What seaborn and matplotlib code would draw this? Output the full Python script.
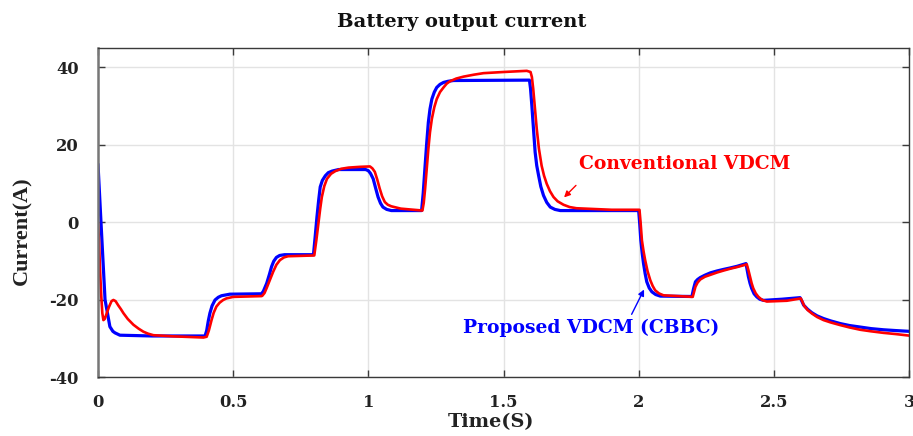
import numpy as np
import pandas as pd
import matplotlib
matplotlib.use("Agg")
import matplotlib.pyplot as plt
import seaborn as sns

# ---- data ----
t_proposed = [0, 0.011, 0.026, 0.044, 0.055, 0.063, 0.081, 0.2, 0.396,
              0.402, 0.408, 0.414, 0.422, 0.433, 0.445, 0.457, 0.488, 0.605,
              0.612, 0.624, 0.634, 0.642, 0.65, 0.66, 0.672, 0.69, 0.797,
              0.803, 0.81, 0.816, 0.822, 0.83, 0.841, 0.852, 0.866, 0.89, 0.99,
              1.0, 1.008, 1.018, 1.027, 1.036, 1.045, 1.054, 1.068, 1.085, 1.197,
              1.203, 1.21, 1.216, 1.222, 1.228, 1.235, 1.244, 1.253, 1.265, 1.278, 1.295, 1.315, 1.596,
              1.6, 1.605, 1.611, 1.617, 1.623, 1.63, 1.638, 1.648, 1.66, 1.673, 1.69, 1.71, 2.0,
              2.004, 2.008, 2.013, 2.018, 2.024, 2.03, 2.039, 2.049, 2.063, 2.08, 2.197,
              2.203, 2.21, 2.218, 2.228, 2.245, 2.265, 2.29, 2.314, 2.34, 2.364, 2.397,
              2.401, 2.406, 2.412, 2.418, 2.427, 2.437, 2.448, 2.462, 2.53, 2.597,
              2.603, 2.61, 2.625, 2.641, 2.66, 2.684, 2.71, 2.746, 2.78, 2.82, 2.86, 2.906, 2.95, 3.0]
i_proposed = [15, 0, -20, -27, -28.2, -28.6, -29.2, -29.4, -29.4,
              -28.0, -25.5, -23.5, -21.6, -20.1, -19.4, -19.0, -18.6, -18.5,
              -17.8, -15.8, -13.5, -11.5, -10.1, -9.1, -8.6, -8.4, -8.4,
              -4.0, 1.4, 5.5, 9.1, 10.8, 12.0, 12.8, 13.2, 13.6, 13.6,
              13.3, 12.6, 11.2, 8.8, 6.5, 4.9, 3.9, 3.3, 3.0, 3.0,
              7.5, 14.6, 20.5, 25.8, 29.2, 31.8, 33.6, 34.8, 35.6, 36.1, 36.4, 36.6, 36.7,
              34.5, 30.0, 24.0, 18.1, 14.6, 12.0, 9.2, 6.9, 5.1, 3.9, 3.3, 3.0, 3.0,
              -0.5, -4.7, -8.0, -10.7, -13.3, -15.4, -17.0, -18.0, -18.7, -19.1, -19.2,
              -17.2, -15.4, -14.8, -14.3, -13.7, -13.1, -12.6, -12.2, -11.8, -11.4, -10.7,
              -12.2, -14.1, -15.8, -17.1, -18.5, -19.3, -19.9, -20.2, -19.9, -19.5,
              -20.3, -21.4, -22.5, -23.4, -24.2, -24.9, -25.5, -26.2, -26.7, -27.1, -27.5, -27.8, -28.0, -28.2]

t_conventional = [0, 0.004, 0.007, 0.012, 0.016, 0.02, 0.025, 0.03, 0.04, 0.05, 0.057, 0.065,
                  0.075, 0.085, 0.094, 0.11, 0.131, 0.15, 0.168, 0.185, 0.205, 0.28, 0.39,
                  0.402, 0.41, 0.42, 0.428, 0.438, 0.45, 0.463, 0.475, 0.5, 0.605,
                  0.608, 0.616, 0.624, 0.636, 0.648, 0.66, 0.673, 0.688, 0.703, 0.8,
                  0.808, 0.816, 0.822, 0.828, 0.837, 0.847, 0.862, 0.878, 0.9, 0.927, 0.97, 1.006,
                  1.015, 1.024, 1.033, 1.042, 1.051, 1.061, 1.072, 1.085, 1.12, 1.2,
                  1.205, 1.21, 1.216, 1.222, 1.228, 1.235, 1.244, 1.253, 1.265, 1.278, 1.29, 1.302,
                  1.325, 1.352, 1.39, 1.426, 1.5, 1.586, 1.6,
                  1.605, 1.61, 1.616, 1.623, 1.631, 1.641, 1.65, 1.66, 1.672, 1.685, 1.7, 1.722,
                  1.745, 1.77, 1.9, 2.003,
                  2.007, 2.012, 2.018, 2.024, 2.033, 2.043, 2.052, 2.061, 2.075, 2.092, 2.2,
                  2.205, 2.21, 2.218, 2.228, 2.245, 2.265, 2.29, 2.314, 2.34, 2.364, 2.4,
                  2.406, 2.412, 2.418, 2.424, 2.433, 2.443, 2.457, 2.474, 2.548, 2.6,
                  2.606, 2.612, 2.625, 2.641, 2.66, 2.684, 2.71, 2.746, 2.78, 2.82, 2.86, 2.906, 2.95, 3.0]
i_conventional = [0, -5.0, -11.6, -19.0, -23.5, -25.3, -25.0, -24.0, -22.0, -20.4, -20.1, -20.4,
                  -21.5, -22.5, -23.5, -25.0, -26.5, -27.5, -28.3, -28.8, -29.2, -29.5, -29.8,
                  -29.6, -28.0, -25.3, -23.4, -21.8, -20.8, -20.1, -19.7, -19.3, -19.1,
                  -19.0, -18.3, -17.0, -14.9, -12.8, -11.0, -9.8, -9.1, -8.8, -8.6,
                  -4.5, 0.0, 3.5, 6.5, 9.3, 11.2, 12.5, 13.2, 13.8, 14.1, 14.3, 14.4,
                  13.9, 13.0, 11.0, 8.7, 6.7, 5.2, 4.5, 4.1, 3.5, 3.0,
                  5.0, 8.6, 13.6, 18.9, 23.2, 26.7, 29.7, 31.8, 33.6, 34.8, 35.8, 36.4,
                  37.1, 37.6, 38.1, 38.5, 38.8, 39.1, 38.8,
                  37.5, 34.4, 29.5, 24.1, 19.0, 14.6, 12.0, 9.9, 8.0, 6.5, 5.4, 4.5,
                  3.9, 3.6, 3.2, 3.2,
                  0.0, -4.7, -7.5, -9.8, -12.7, -15.0, -16.5, -17.6, -18.4, -18.9, -19.3,
                  -18.0, -16.7, -15.6, -14.8, -14.1, -13.6, -13.0, -12.5, -12.0, -11.6, -10.9,
                  -12.4, -14.1, -15.8, -17.1, -18.4, -19.3, -20.1, -20.5, -20.3, -19.7,
                  -20.6, -21.6, -22.7, -23.6, -24.5, -25.3, -25.9, -26.6, -27.2, -27.8, -28.2, -28.6, -28.9, -29.3]

x_ticks = [0, 0.5, 1, 1.5, 2, 2.5, 3]
x_tick_labels = ["0", "0.5", "1", "1.5", "2", "2.5", "3"]
y_ticks = [-40, -20, 0, 20, 40]
y_tick_labels = ["-40", "-20", "0", "20", "40"]

title_text = "Battery output current"
x_label = "Time(S)"
y_label = "Current(A)"
label_conv = "Conventional VDCM"
label_prop = "Proposed VDCM (CBBC)"

# ---- style ----
sns.set_theme(style="whitegrid")
plt.rcParams["font.family"] = ["DejaVu Serif", "Liberation Serif"]
plt.rcParams["font.weight"] = "bold"

fig = plt.figure(figsize=(9.13, 4.36), dpi=100)
ax = fig.add_axes([98 / 913, 1 - 377 / 436, (909 - 98) / 913, (377 - 48) / 436])

df_p = pd.DataFrame({"t": t_proposed, "i": i_proposed})
df_c = pd.DataFrame({"t": t_conventional, "i": i_conventional})

sns.lineplot(data=df_p, x="t", y="i", ax=ax, color="#0000ff", lw=2.3,
             estimator=None, sort=False)
sns.lineplot(data=df_c, x="t", y="i", ax=ax, color="#ff0000", lw=1.9,
             estimator=None, sort=False)

ax.set_xlim(0, 3)
ax.set_ylim(-40, 45)
ax.set_xticks(x_ticks)
ax.set_xticklabels(x_tick_labels)
ax.set_yticks(y_ticks)
ax.set_yticklabels(y_tick_labels)
ax.set_facecolor("white")
ax.grid(True, color="#e3e3e3", lw=1.0)

for s in ax.spines.values():
    s.set_visible(True)
    s.set_color("#3a3a3a")
    s.set_linewidth(1.0)
ax.spines["left"].set_color("#777777")
ax.spines["left"].set_linewidth(1.8)

ax.tick_params(axis="both", which="major", direction="in", length=5, width=1,
               color="#3a3a3a", top=True, right=True, bottom=True, left=True,
               labelsize=11.8)
ax.tick_params(axis="x", pad=12)
ax.tick_params(axis="y", pad=14)
for lab in ax.get_xticklabels() + ax.get_yticklabels():
    lab.set_fontweight("bold")
    lab.set_color("#222222")

ax.set_xlabel(x_label, fontsize=13.9, fontweight="bold", color="#222222")
ax.xaxis.set_label_coords((491 - 98) / 811, -(413 - 377) / 329)
ax.set_ylabel(y_label, fontsize=16, fontweight="bold", color="#222222",
              family="Liberation Serif", va="center", ha="center")
ax.yaxis.set_label_coords((22 - 98) / 811, (377 - 231) / 329)

fig.text(462 / 913, 1 - 27 / 436, title_text, ha="center", va="baseline",
         fontsize=14, fontweight="bold", color="#111111")

ax.text(2.171, 15.1, label_conv, ha="center", va="center", fontsize=13.5,
        fontweight="bold", color="#ff0000")
ax.annotate("", xy=(1.724, 6.4), xytext=(1.768, 9.5),
            arrowprops=dict(arrowstyle="-|>", color="#ff0000", lw=1.0,
                            mutation_scale=9, shrinkA=0, shrinkB=0))
ax.text(1.823, -27.3, label_prop, ha="center", va="center", fontsize=13.5,
        fontweight="bold", color="#0000ff")
ax.annotate("", xy=(2.02, -17.4), xytext=(1.974, -23.8),
            arrowprops=dict(arrowstyle="-|>", color="#0000ff", lw=1.0,
                            mutation_scale=9, shrinkA=0, shrinkB=0))

fig.savefig("out.png", dpi=100, facecolor="white")
